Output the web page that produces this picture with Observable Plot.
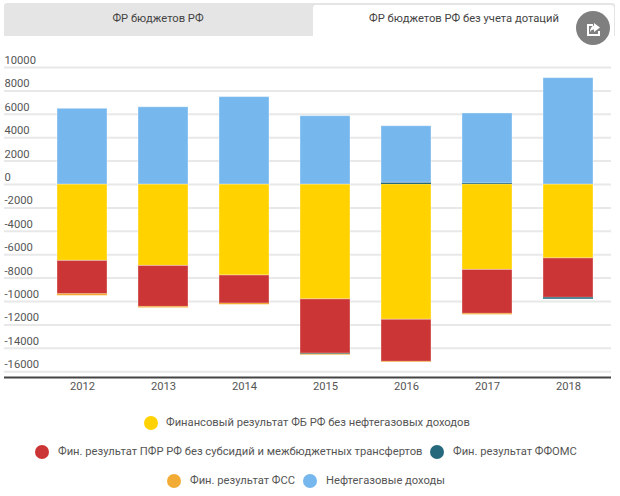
<!DOCTYPE html>
<html lang="ru">
<head>
<meta charset="utf-8">
<script src="https://cdn.jsdelivr.net/npm/d3@7"></script>
<script src="https://cdn.jsdelivr.net/npm/@observablehq/plot@0.6"></script>
<style>
html,body{margin:0;padding:0;background:#fff;width:620px;height:496px;overflow:hidden;font-family:Roboto,sans-serif;color:#555}
#tabs{position:absolute;left:4px;top:3px;width:611px;height:33px;background:#e5e5e5;border-radius:3px 3px 0 0}
.tab{position:absolute;font-size:11.2px;line-height:16px;color:#444;white-space:nowrap;transform:translateX(-50%);top:8px}
#tabOn{position:absolute;left:309px;top:2px;width:301px;height:31px;background:#fff;border-radius:3px 3px 0 0}
#share{position:absolute;left:576px;top:11px;width:34px;height:34px}
#chart{position:absolute;left:0;top:0}
.leg{position:absolute;font-size:11.2px;line-height:16px;color:#555;white-space:nowrap;transform:translateY(-50%)}
.dot{position:absolute;width:14px;height:14px;border-radius:50%;transform:translate(-50%,-50%)}
</style>
</head>
<body>
<div id="tabs"><div id="tabOn"></div>
<div class="tab" id="t0"></div><div class="tab" id="t1"></div></div>
<svg id="share" viewBox="0 0 34 34"><circle cx="17" cy="17" r="17" fill="#7f7f7f"/><path d="M11 13h6v2h-4v8h9v-3h2v5H11z M18 12l6 4.5-6 4.5v-2.5c-2 0-3 .8-4 2.500 0-3.500 1.500-6 4-6.500z" fill="#fff"/></svg>
<div id="chart"></div>
<div id="legend"></div>
<script>
const tabLabels = ["ФР бюджетов РФ", "ФР бюджетов РФ без учета дотаций"];
const years = ["2012","2013","2014","2015","2016","2017","2018"];
const seriesNames = [
  "Финансовый результат ФБ РФ без нефтегазовых доходов",
  "Фин. результат ПФР РФ без субсидий и межбюджетных трансфертов",
  "Фин. результат ФФОМС",
  "Фин. результат ФСС",
  "Нефтегазовые доходы"
];
const seriesColors = ["#ffd200","#cc3535","#26697d","#f2ac35","#76b7ee"];
const fbResult   = [-6530,-6960,-7780,-9820,-11560,-7300,-6320];
const pfrResult  = [-2840,-3500,-2390,-4630,-3590,-3750,-3360];
const ffomsResult= [0,0,0,-60,150,90,-130];
const fssResult  = [-140,-90,-110,-70,-50,-90,0];
const oilGas     = [6470,6600,7470,5840,4830,5980,9090];
const yTicks = [10000,8000,6000,4000,2000,0,-2000,-4000,-6000,-8000,-10000,-12000,-14000,-16000];
const yBottom = -16496;

const seriesValues = [fbResult,pfrResult,ffomsResult,fssResult,oilGas];
const rows = seriesNames.flatMap((s,i)=>years.map((y,j)=>({year:y,series:s,value:seriesValues[i][j]})));

document.getElementById("t0").textContent = tabLabels[0];
document.getElementById("t0").style.left = "154px";
document.getElementById("t1").textContent = tabLabels[1];
document.getElementById("t1").style.left = "460px";

const plot = Plot.plot({
  width:620, height:400,
  marginTop:67, marginBottom:23, marginLeft:4, marginRight:9,
  style:{fontFamily:"Roboto,sans-serif",fontSize:"11.2px",color:"#555",background:"transparent"},
  x:{domain:years,range:[41.5,608.5],paddingInner:0.383,paddingOuter:0.1915,label:null},
  y:{domain:[yBottom,10000],label:null},
  color:{domain:seriesNames,range:seriesColors},
  marks:[
    Plot.ruleY(yTicks,{stroke:"#e8e8e8",strokeWidth:2}),
    Plot.barY(rows,{x:"year",y:"value",fill:"series",stroke:"#fff",strokeOpacity:d=>Math.abs(d.value)<300?0:0.35,strokeWidth:1}),
    Plot.ruleY([yBottom],{stroke:"#444",strokeWidth:2}),
    Plot.axisY({ticks:yTicks,anchor:"left",tickSize:0,tickPadding:0,textAnchor:"start",dy:-7,tickFormat:d=>String(d),label:null,fill:"#555"}),
    Plot.axisX({tickSize:0,tickPadding:5,label:null,fill:"#555"})
  ]
});
document.getElementById("chart").append(plot);

const legendRows = [
  {y:423,items:[[0,151,166]]},
  {y:452,items:[[1,42,58],[2,437,453]]},
  {y:481,items:[[3,174,190],[4,310,326]]}
];
const lg = document.getElementById("legend");
legendRows.forEach(r=>r.items.forEach(([i,dx,tx])=>{
  const d=document.createElement("div");d.className="dot";d.style.left=dx+"px";d.style.top=r.y+"px";d.style.background=seriesColors[i];lg.append(d);
  const t=document.createElement("div");t.className="leg";t.style.left=tx+"px";t.style.top=r.y+"px";t.textContent=seriesNames[i];lg.append(t);
}));
</script>
</body>
</html>
